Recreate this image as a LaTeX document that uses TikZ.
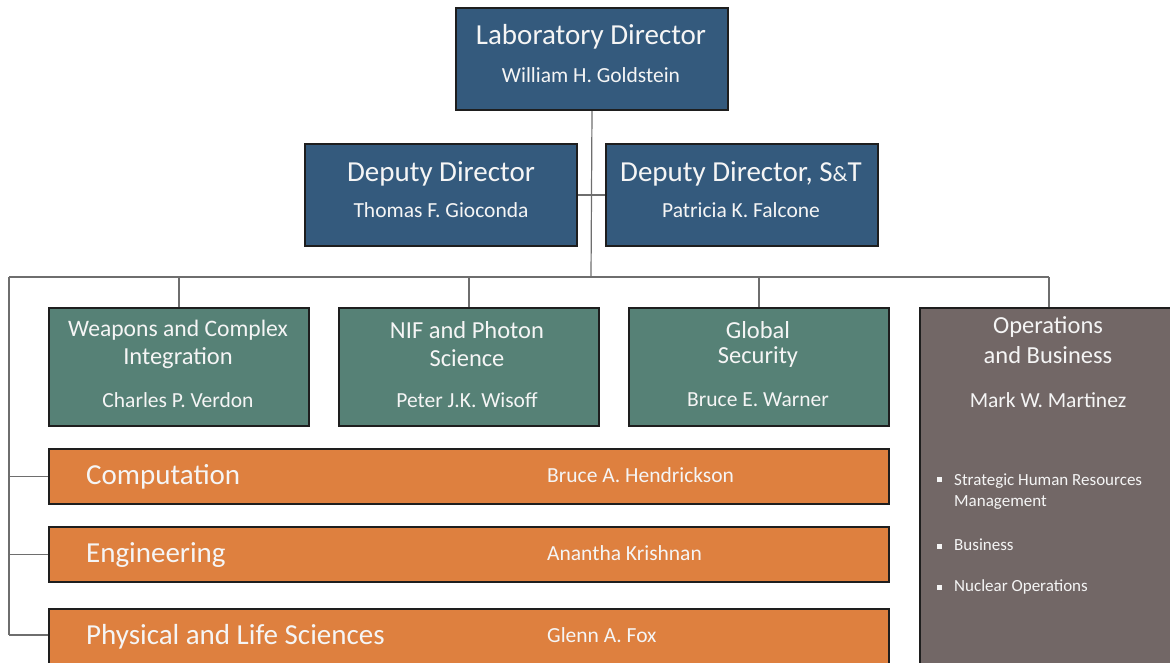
\documentclass[tikz,border=0pt]{standalone}
\usepackage{fontspec}
\setmainfont{Carlito}
\definecolor{dblue}{RGB}{52,90,125}
\definecolor{dgreen}{RGB}{86,129,118}
\definecolor{opsg}{RGB}{114,103,102}
\definecolor{orng}{RGB}{222,128,63}
\definecolor{lnc}{RGB}{110,110,110}
\definecolor{bdr}{RGB}{30,30,30}
\definecolor{txtw}{RGB}{245,245,245}
\begin{document}
\begin{tikzpicture}[x=1pt,y=-1pt,
  box/.style={draw=bdr, line width=2pt, inner sep=0pt, anchor=north west},
  bluebox/.style={box, fill=dblue, minimum width=272pt, minimum height=102pt},
  greenbox/.style={box, fill=dgreen, minimum width=260pt, minimum height=118pt},
  orangebox/.style={box, fill=orng, minimum width=840pt, minimum height=55pt},
  opsbox/.style={box, fill=opsg, minimum width=260pt, minimum height=370pt},
  txt/.style={text=txtw, inner sep=0pt},
  big/.style={txt, font=\fontsize{29}{34}\selectfont},
  mid/.style={txt, font=\fontsize{24.5}{29}\selectfont},
  nm/.style={txt, font=\fontsize{21.5}{25}\selectfont},
  blt/.style={txt, font=\fontsize{17}{21}\selectfont, anchor=west, align=left},
  conn/.style={draw=lnc, line width=1.2pt}]
\useasboundingbox (0,0) rectangle (1170,662);
\clip (0,0) rectangle (1170,662);

% boxes
\node[bluebox] (ld) at (455,7) {};
\node[bluebox] (dd) at (304,143) {};
\node[bluebox] (dst) at (605,143) {};
\node[greenbox] (wci) at (48,307) {};
\node[greenbox] (nif) at (338,307) {};
\node[greenbox] (gs) at (628,307) {};
\node[opsbox] (ops) at (919,307) {};
\node[orangebox] (comp) at (48,448) {};
\node[orangebox] (eng) at (48,526) {};
\node[orangebox, minimum height=70pt] (pls) at (48,608) {};

% coordinates
\coordinate (bus) at (591,277);
\coordinate (lbus) at (9,277);
\coordinate (rbus) at (1049,277);
\coordinate (lbot) at (9,635);

% connectors
\draw[conn] (ld.south) -- (bus);
\draw[conn] (dd.east) -- (dst.west);
\draw[conn] (lbus) -- (rbus);
\draw[conn] (wci.north |- bus) -- (wci.north);
\draw[conn] (nif.north |- bus) -- (nif.north);
\draw[conn] (gs.north |- bus) -- (gs.north);
\draw[conn] (rbus) -- (rbus |- ops.north);
\draw[conn] (lbus) -- (lbot);
\draw[conn] (lbus |- comp.west) -- (comp.west);
\draw[conn] (lbus |- eng.west) -- (eng.west);
\draw[conn] (lbot) -- (lbot -| pls.west);

% texts
\node[big] (t1) at (591,37) {Laboratory Director};
\node[nm] (n1) at (591,75) {William H. Goldstein};
\node[big] (t2) at (441,174) {Deputy Director};
\node[nm] (n2) at (441,210) {Thomas F. Gioconda};
\node[big] (t3) at (741,174) {Deputy Director, S{\fontsize{22}{26}\selectfont\&}T};
\node[nm] (n3) at (741,210) {Patricia K. Falcone};

\node[mid, font=\fontsize{23.6}{28}\selectfont] (t4a) at (178,330) {Weapons and Complex};
\node[mid] (t4b) at (178,358) {Integration};
\node[nm] (n4) at (178,400) {Charles P. Verdon};
\node[mid] (t5a) at (467,330) {NIF and Photon};
\node[mid] (t5b) at (467,358) {Science};
\node[nm] (n5) at (467,400) {Peter J.K. Wisoff};
\node[mid] (t6a) at (758,330) {Global};
\node[mid] (t6b) at (758,357) {Security};
\node[nm] (n6) at (758,400) {Bruce E. Warner};
\node[mid] (t7a) at (1048,327) {Operations};
\node[mid] (t7b) at (1048,355) {and Business};
\node[nm] (n7) at (1048,400) {Mark W. Martinez};

\node[blt] (b1) at (937,492) {\raisebox{14pt}{\rule{5pt}{5pt}}\hspace{12pt}\begin{tabular}[c]{@{}l@{}}Strategic Human Resources\\[0pt]Management\end{tabular}};
\node[blt] (b2) at (937,545) {\raisebox{2pt}{\rule{5pt}{5pt}}\hspace{12pt}Business};
\node[blt] (b3) at (937,587) {\raisebox{2pt}{\rule{5pt}{5pt}}\hspace{12pt}Nuclear Operations};

\node[big, anchor=west] (t8) at (86,477) {Computation};
\node[nm, anchor=west] (n8) at (547,475) {Bruce A. Hendrickson};
\node[big, anchor=west] (t9) at (86,555) {Engineering};
\node[nm, anchor=west] (n9) at (547,553) {Anantha Krishnan};
\node[big, anchor=west] (t10) at (86,637) {Physical and Life Sciences};
\node[nm, anchor=west] (n10) at (547,635) {Glenn A. Fox};
\end{tikzpicture}
\end{document}
